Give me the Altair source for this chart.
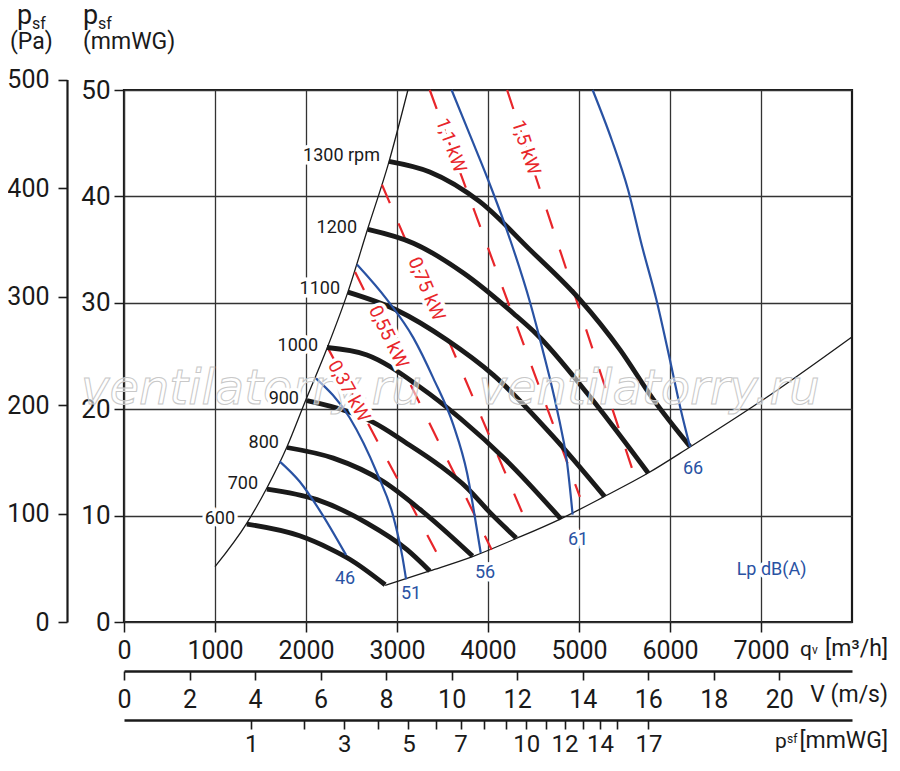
import altair as alt
import pandas as pd

# ---------------- values ----------------
# fan curves: airflow q [m3/h], static pressure p [mmWG]
rpm600_q = [1350, 1930, 2260, 2480, 2870]
rpm600_p = [9.2, 8.1, 6.9, 5.9, 3.5]
rpm700_q = [1570, 2120, 2670, 3110, 3360]
rpm700_p = [12.5, 11.5, 9.3, 6.8, 4.8]
rpm800_q = [1790, 2300, 2850, 3250, 3470, 3830]
rpm800_p = [16.4, 15.4, 13.2, 10.6, 9.0, 6.2]
rpm900_q = [2010, 2450, 2730, 3090, 3470, 3770, 4020, 4310]
rpm900_p = [20.8, 19.8, 18.8, 16.9, 14.7, 12.6, 10.3, 7.9]
rpm1000_q = [2230, 2670, 3250, 3700, 4200, 4800]
rpm1000_p = [25.8, 25.1, 22.1, 19.1, 15.2, 9.7]
rpm1100_q = [2460, 3000, 3550, 4060, 4720, 5280]
rpm1100_p = [31.0, 29.3, 26.5, 23.2, 17.4, 11.8]
rpm1200_q = [2680, 3180, 3730, 4280, 4540, 5090, 5760]
rpm1200_p = [36.9, 35.6, 32.8, 29.0, 27.0, 21.5, 14.0]
rpm1300_q = [2910, 3360, 3910, 4460, 5010, 5450, 5810, 6220]
rpm1300_p = [43.3, 42.3, 39.5, 35.0, 30.3, 25.6, 21.0, 16.5]

# limit lines (thin black)
stall_q = [1000, 1350, 1570, 1790, 1990, 2230, 2460, 2680, 2910, 3120]
stall_p = [5.2, 9.3, 12.6, 16.45, 20.7, 25.7, 31.0, 37.0, 43.2, 50.0]
system_q = [2870, 3360, 3830, 4310, 4800, 5280, 5760, 6220, 6990, 8000]
system_p = [3.45, 4.8, 6.15, 7.85, 9.7, 11.8, 14.0, 16.45, 20.7, 26.8]

# sound pressure lines Lp dB(A) (blue)
lp46_q = [1710, 1930, 2150, 2440]
lp46_p = [15.1, 13.2, 10.5, 6.3]
lp51_q = [2110, 2480, 2780, 2960, 3060, 3100]
lp51_p = [22.9, 19.2, 14.0, 9.9, 6.1, 4.0]
lp56_q = [2560, 2890, 3180, 3400, 3620, 3770, 3880, 3920]
lp56_p = [33.6, 30.3, 26.7, 22.9, 18.5, 14.0, 8.6, 6.5]
lp61_q = [3600, 3800, 3990, 4200, 4460, 4600, 4760, 4870, 4930]
lp61_p = [50.0, 45.8, 41.8, 37.0, 30.1, 25.6, 19.9, 14.9, 10.1]
lp66_q = [5150, 5360, 5540, 5690, 5850, 6000, 6120, 6220]
lp66_p = [50.0, 45.3, 40.6, 35.4, 30.3, 24.6, 19.9, 16.45]

# motor power lines (red dashed)
kw037_q = [2250, 3430]
kw037_p = [25.6, 6.6]
kw055_q = [2540, 4040]
kw055_p = [32.9, 6.8]
kw075_q = [2835, 4460]
kw075_p = [41.1, 8.6]
kw110_q = [3360, 5010]
kw110_p = [50.0, 11.75]
kw150_q = [4210, 5630]
kw150_p = [50.0, 13.2]

# labels
rpm_label_text = ["1300 rpm", "1200", "1100", "1000", "900", "800", "700", "600"]
rpm_label_q = [2813, 2561, 2374, 2132, 1923, 1703, 1473, 1220]
rpm_label_p = [43.8, 37.0, 31.3, 25.9, 21.0, 16.8, 13.0, 9.7]
lp_label_text = ["46", "51", "56", "61", "66", "Lp dB(A)"]
lp_label_q = [2429, 3154, 3967, 4989, 6253, 7116]
lp_label_p = [4.0, 2.6, 4.6, 7.7, 14.4, 4.9]
kw_label_text = ["0,37 kW", "0,55 kW", "0,75 kW", "1,1 kW", "1,5 kW"]
kw_label_q = [2473, 2907, 3324, 3594, 4418]
kw_label_p = [21.7, 26.8, 31.3, 44.8, 44.6]
kw_label_angle = [61, 64, 67, 70, 72]
watermark_text = ["ventilatorry.ru", "ventilatorry.ru"]
watermark_q = [1401, 5770]
watermark_p = [20.5, 20.5]

# axis ticks
q_ticks = [0, 1000, 2000, 3000, 4000, 5000, 6000, 7000]
mm_ticks = [0, 10, 20, 30, 40, 50]
pa_ticks = [0, 100, 200, 300, 400, 500]
v_ticks = [0, 2, 4, 6, 8, 10, 12, 14, 16, 18, 20]
pd_ticks = [1, 2, 3, 4, 5, 6, 7, 8, 9, 10, 11, 12, 13, 14, 15, 17]
pd_labels = [1, 3, 5, 7, 10, 12, 14, 17]

# ---------------- build tables ----------------
rows = []


def add(name, kind, qs, ps):
    for i, (q, p) in enumerate(zip(qs, ps)):
        rows.append(dict(curve=name, kind=kind, q=q, p=p, i=i))


for n, qs, ps in [(600, rpm600_q, rpm600_p), (700, rpm700_q, rpm700_p),
                  (800, rpm800_q, rpm800_p), (900, rpm900_q, rpm900_p),
                  (1000, rpm1000_q, rpm1000_p), (1100, rpm1100_q, rpm1100_p),
                  (1200, rpm1200_q, rpm1200_p), (1300, rpm1300_q, rpm1300_p)]:
    add(f"rpm{n}", "rpm", qs, ps)
add("stall", "limit", stall_q, stall_p)
add("system", "limit", system_q, system_p)
for n, qs, ps in [(46, lp46_q, lp46_p), (51, lp51_q, lp51_p), (56, lp56_q, lp56_p),
                  (61, lp61_q, lp61_p), (66, lp66_q, lp66_p)]:
    add(f"lp{n}", "lp", qs, ps)
for n, qs, ps in [("037", kw037_q, kw037_p), ("055", kw055_q, kw055_p),
                  ("075", kw075_q, kw075_p), ("110", kw110_q, kw110_p),
                  ("150", kw150_q, kw150_p)]:
    add(f"kw{n}", "kw", qs, ps)
curves = pd.DataFrame(rows)

rpm_lab = pd.DataFrame(dict(t=rpm_label_text, q=rpm_label_q, p=rpm_label_p))
lp_lab = pd.DataFrame(dict(t=lp_label_text, q=lp_label_q, p=lp_label_p))
kw_lab = pd.DataFrame(dict(t=kw_label_text, q=kw_label_q, p=kw_label_p, a=kw_label_angle))
wm = pd.DataFrame(dict(t=watermark_text, q=watermark_q, p=watermark_p))
one = pd.DataFrame({"k": [0]})

# ---------------- styles ----------------
F_NUM = "Roboto, sans-serif"
F_TXT = "Roboto, sans-serif"
INK = "#1a1a1a"
BLUE = "#2952a3"
RED = "#e8262b"
GRID = "#333333"
W, H = 728, 532

ax_q = alt.Axis(orient="bottom", values=q_ticks, format="d", grid=True, gridColor=GRID,
                gridWidth=1.3, domain=False, tickSize=10, tickColor=INK, tickWidth=1.5,
                labelFont=F_NUM, labelFontSize=25, labelColor=INK, labelPadding=6,
                labelFlush=False, labelOverlap=False, title=None)
ax_mm = alt.Axis(orient="left", values=mm_ticks, grid=True, gridColor=GRID, gridWidth=1.3,
                 domain=False, tickSize=10, tickColor=INK, tickWidth=1.5,
                 labelFont=F_NUM, labelFontSize=26, labelColor=INK, labelPadding=4,
                 labelFlush=False, labelOverlap=False, title=None)
X = alt.X("q:Q", scale=alt.Scale(domain=[0, 8000], nice=False, zero=False), axis=ax_q)
Y = alt.Y("p:Q", scale=alt.Scale(domain=[0, 50], nice=False), axis=ax_mm)

base = alt.Chart(curves).encode(x=X, y=Y, detail="curve:N", order="i:Q")
thin = base.transform_filter("datum.kind == 'limit'").mark_line(
    color=INK, strokeWidth=1.3, interpolate="monotone")
red = base.transform_filter("datum.kind == 'kw'").mark_line(
    color=RED, strokeWidth=2.2, strokeDash=[20, 22])
black = base.transform_filter("datum.kind == 'rpm'").mark_line(
    color=INK, strokeWidth=4.8, interpolate="monotone")
blue = base.transform_filter("datum.kind == 'lp'").mark_line(
    color=BLUE, strokeWidth=2.2, interpolate="monotone")

watermark = alt.Chart(wm).mark_text(
    font="DejaVu Sans", fontStyle="italic", fontSize=48, align="center",
    baseline="alphabetic", fill="white", fillOpacity=0.55, stroke="#c8c8c8",
    strokeWidth=1.0).encode(x=X, y=Y, text="t:N")


def labels(df, size, color, align, angle=False):
    kw = dict(fontSize=size, font=F_TXT, align=align, baseline="middle")
    enc = dict(x=X, y=Y, text="t:N")
    if angle:
        enc["angle"] = alt.Angle("a:Q", scale=None)
    halo = alt.Chart(df).mark_text(color="white", stroke="white", strokeWidth=7, **kw).encode(**enc)
    txt = alt.Chart(df).mark_text(color=color, **kw).encode(**enc)
    return [halo, txt]


def piece(txt, x, y, size, align="left"):
    return alt.Chart(one).mark_text(text=txt, align=align, baseline="alphabetic",
                                    fontSize=size, font=F_TXT, color=INK).encode(
        x=alt.value(x), y=alt.value(y))


titles = [
    piece("p", -107, -66, 27), piece("sf", -92, -61, 16), piece("(Pa)", -114, -41, 23),
    piece("p", -41, -66, 27), piece("sf", -26, -61, 16), piece("(mmWG)", -41, -41, 23),
    piece("q", 676, 566, 21), piece("v", 688, 564, 12), piece("[m³/h]", 764, 566, 23, "right"),
    piece("V (m/s)", 764, 612, 23, "right"),
    piece("p", 651, 658, 21), piece("sf", 663, 653, 12), piece("[mmWG]", 764, 658, 23, "right"),
]

main = alt.layer(
    thin, red, black, blue, watermark,
    *labels(rpm_lab, 18, INK, "right"),
    *labels(lp_lab, 18, BLUE, "center"),
    *labels(kw_lab, 19, RED, "center", angle=True),
    *titles,
)

# Pa axis (0..500 Pa, 1 mmWG = 9.80665 Pa, top of plot = 490.3 Pa)
pa_layer = alt.Chart(pd.DataFrame({"pa": [0, 500]})).mark_point(opacity=0).encode(
    y=alt.Y("pa:Q", scale=alt.Scale(domain=[0, 500], range=[H, H - H * 500 / 490.33], nice=False),
            axis=alt.Axis(orient="left", offset=57, values=pa_ticks, grid=False,
                          domain=True, domainColor=INK, domainWidth=2.2,
                          tickSize=9, tickColor=INK, tickWidth=1.6,
                          labelFont=F_NUM, labelFontSize=25, labelColor=INK, labelPadding=9,
                          labelFlush=False, labelOverlap=False, title=None)))

# velocity axis
v_layer = alt.Chart(pd.DataFrame({"v": [0, 22.22]})).mark_point(opacity=0).encode(
    x=alt.X("v:Q", scale=alt.Scale(domain=[0, 22.22], nice=False),
            axis=alt.Axis(orient="bottom", offset=49, values=v_ticks, grid=False,
                          domain=True, domainColor=INK, domainWidth=2.6,
                          tickSize=9, tickColor=INK, tickWidth=1.6,
                          labelFont=F_NUM, labelFontSize=25, labelColor=INK, labelPadding=7,
                          labelFlush=False, labelOverlap=False, title=None)))

# dynamic pressure axis (square-root scale of velocity)
lab_list = "[" + ",".join(str(v) for v in pd_labels) + "]"
pd_layer = alt.Chart(pd.DataFrame({"d": [0, 32.76]})).mark_point(opacity=0).encode(
    x=alt.X("d:Q", scale=alt.Scale(type="sqrt", domain=[0, 32.76], nice=False),
            axis=alt.Axis(orient="bottom", offset=98, values=pd_ticks, grid=False,
                          domain=True, domainColor=INK, domainWidth=2.6,
                          tickSize=9, tickColor=INK, tickWidth=1.6,
                          labelExpr=f"indexof({lab_list}, datum.value) >= 0 ? datum.label : ''",
                          labelFont=F_NUM, labelFontSize=24, labelColor=INK, labelPadding=3,
                          labelFlush=False, labelOverlap=False, title=None)))

chart = alt.layer(main, pa_layer, v_layer, pd_layer).resolve_scale(
    x="independent", y="independent"
).properties(
    width=W, height=H,
    autosize=alt.AutoSizeParams(type="none"),
    padding={"left": 116, "top": 82, "right": 40, "bottom": 134},
    background="white",
).configure_view(stroke=INK, strokeWidth=2.2)

chart.save("out.html", embed_options={"renderer": "svg", "actions": False})
